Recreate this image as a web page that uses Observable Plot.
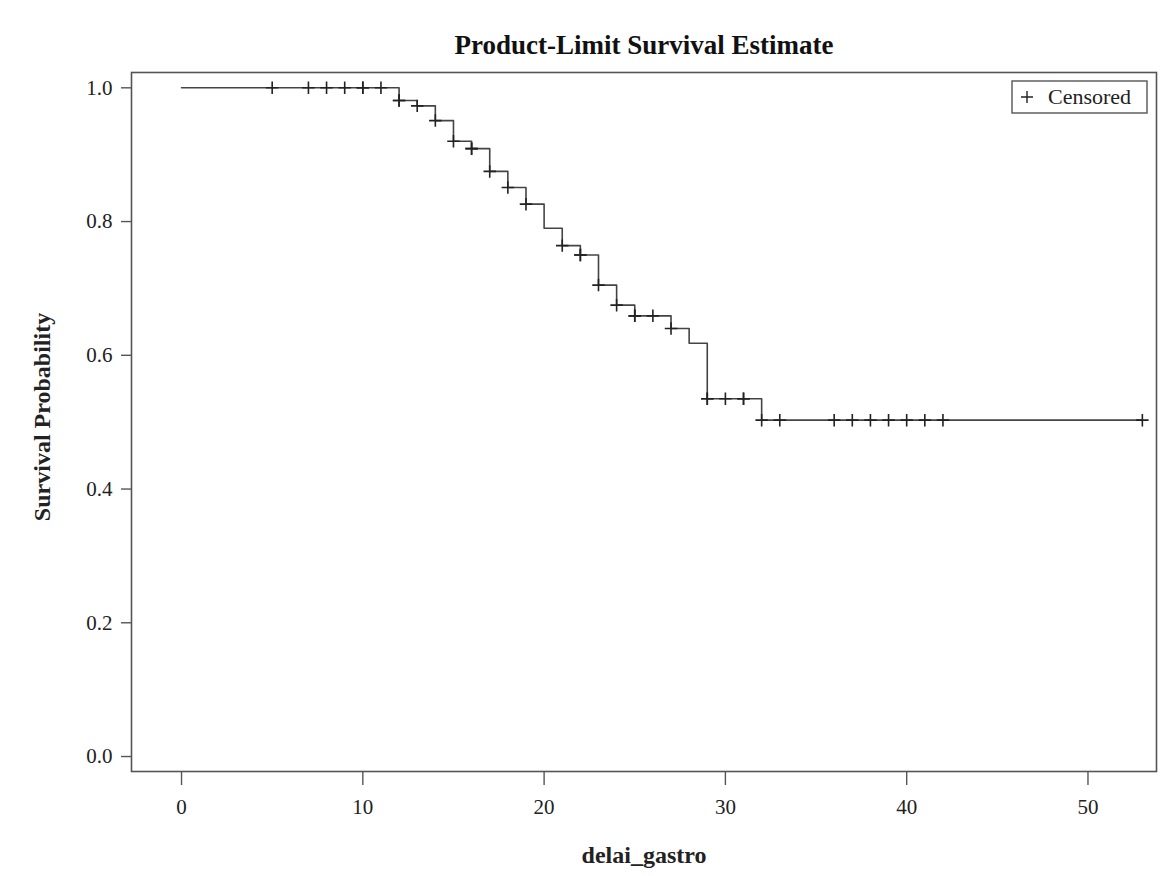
<!DOCTYPE html>
<html><head><meta charset="utf-8">
<script src="https://cdn.jsdelivr.net/npm/d3@7"></script>
<script src="https://cdn.jsdelivr.net/npm/@observablehq/plot@0.6"></script>
<style>
body{margin:0;background:#fff}
#chart{position:relative;width:1163px;height:876px}
</style>
</head><body><div id="chart"></div>
<script>
// Kaplan-Meier step curve (event times and survival after each drop)
const stepTimes = [0, 12, 13, 14, 15, 16, 17, 18, 19, 20, 21, 22, 23, 24, 25, 27, 28, 29, 32, 53];
const survival  = [1.0, 0.981, 0.973, 0.951, 0.920, 0.909, 0.875, 0.851, 0.826, 0.790, 0.764, 0.750, 0.705, 0.675, 0.659, 0.640, 0.618, 0.535, 0.503, 0.503];
// Censored observation times (repeated times = multiple censored at that time)
const censoredTimes = [5, 7, 8, 9, 10, 10, 11, 12, 12, 13, 14, 15, 16, 16, 17, 18, 19, 21, 22, 22, 23, 24, 25, 25, 26, 27, 29, 29, 30, 31, 31, 32, 33, 36, 37, 38, 39, 40, 41, 42, 53];
const xTicks = [0, 10, 20, 30, 40, 50];
const yTicks = [0.0, 0.2, 0.4, 0.6, 0.8, 1.0];
const titleText = "Product-Limit Survival Estimate";
const xLabel = "delai_gastro";
const yLabel = "Survival Probability";
const legendLabel = "Censored";

const curve = stepTimes.map((t, i) => ({t, s: survival[i]}));
function survAt(t) {
  let s = survival[0];
  for (let i = 0; i < stepTimes.length; i++) if (stepTimes[i] <= t) s = survival[i];
  return s;
}
const censored = censoredTimes.map(t => ({t, s: survAt(t)}));

const FONT = "'Liberation Serif', 'Times New Roman', serif";
const W = 1163, H = 876, mL = 131, mR = 7, mT = 72, mB = 105;

const plot = Plot.plot({
  width: W, height: H,
  marginLeft: mL, marginRight: mR, marginTop: mT, marginBottom: mB,
  style: {fontFamily: FONT, background: "#fff", color: "#333"},
  x: {domain: [-2.76, 53.78]},
  y: {domain: [-0.0224, 1.0229]},
  marks: [
    Plot.frame({stroke: "#555", strokeWidth: 1.6}),
    Plot.axisX({ticks: xTicks, tickSize: 14, tickPadding: 14, fontSize: 21, label: null,
                tickFormat: d => String(d), stroke: "#555", strokeWidth: 1.4, fill: "#222"}),
    Plot.axisY({ticks: yTicks, tickSize: 10, tickPadding: 9, fontSize: 21, label: null,
                tickFormat: d => d.toFixed(1), stroke: "#555", strokeWidth: 1.4, fill: "#222"}),
    Plot.line(curve, {x: "t", y: "s", curve: "step-after", stroke: "#444", strokeWidth: 1.6}),
    Plot.dot(censored, {x: "t", y: "s", symbol: "plus", r: 4.1, stroke: "#222", strokeWidth: 1.6}),
    Plot.text([titleText], {text: d => d, frameAnchor: "top", lineAnchor: "middle", dy: -27,
                fontSize: 27, fontWeight: "bold", fill: "#111"}),
    Plot.text([xLabel], {text: d => d, frameAnchor: "bottom", lineAnchor: "middle", dy: 84,
                fontSize: 24, fontWeight: "bold", fill: "#222"}),
    Plot.text([yLabel], {text: d => d, frameAnchor: "left", textAnchor: "middle", lineAnchor: "middle",
                dx: -89, dy: -5, rotate: -90, fontSize: 24, fontWeight: "bold", fill: "#222"})
  ]
});
document.getElementById("chart").appendChild(plot);

// Legend box inside the top-right of the frame
const svg = d3.select(plot);
const bw = 135, bh = 32;
const bx = W - mR - 9 - bw, by = mT + 9;
const g = svg.append("g");
g.append("rect").attr("x", bx).attr("y", by).attr("width", bw).attr("height", bh)
  .attr("fill", "#fff").attr("stroke", "#555").attr("stroke-width", 1.4);
const px = bx + 15, py = by + bh / 2;
g.append("path").attr("d", `M${px-6},${py}H${px+6}M${px},${py-6}V${py+6}`)
  .attr("stroke", "#222").attr("stroke-width", 1.4).attr("fill", "none");
g.append("text").attr("x", bx + 36).attr("y", py + 7).text(legendLabel)
  .attr("text-anchor", "start")
  .attr("font-family", FONT).attr("font-size", 22).attr("fill", "#222");
</script>
</body></html>
